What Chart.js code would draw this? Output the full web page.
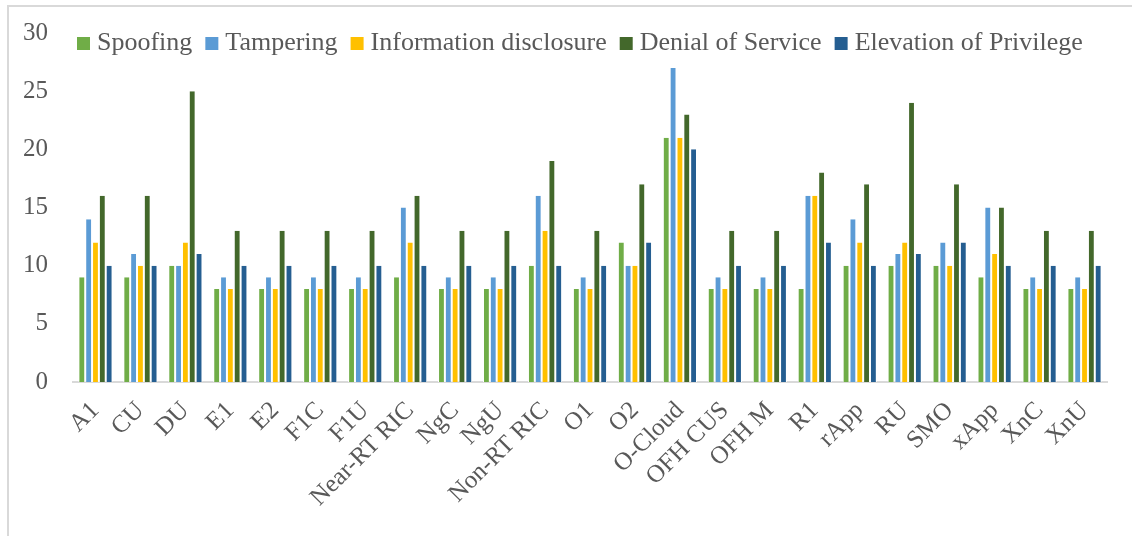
<!DOCTYPE html>
<html>
<head>
<meta charset="utf-8">
<script src="https://cdn.jsdelivr.net/npm/chart.js@4.4.0/dist/chart.umd.min.js"></script>
<style>
  html, body { margin: 0; padding: 0; background: #fff; }
  #frame { position: absolute; left: 7px; top: 5px; width: 1140px; height: 540px;
           border-left: 2px solid #d9d9d9; border-top: 2px solid #d9d9d9; }
  #wrap { position: absolute; left: 0; top: 0; width: 1132px; height: 536px; }
</style>
</head>
<body>
<div id="frame"></div>
<div id="wrap"><canvas id="threat-chart" width="1132" height="536"></canvas></div>
<script>
// categories (interfaces / components)
var labels = ['A1', 'CU', 'DU', 'E1', 'E2', 'F1C', 'F1U', 'Near-RT RIC', 'NgC', 'NgU', 'Non-RT RIC',
              'O1', 'O2', 'O-Cloud', 'OFH CUS', 'OFH M', 'R1', 'rApp', 'RU', 'SMO', 'xApp', 'XnC', 'XnU'];

// STRIDE threat counts
var spoofing    = [9, 9, 10, 8, 8, 8, 8, 9, 8, 8, 10, 8, 12, 21, 8, 8, 8, 10, 10, 10, 9, 8, 8];
var tampering   = [14, 11, 10, 9, 9, 9, 9, 15, 9, 9, 16, 9, 10, 27, 9, 9, 16, 14, 11, 12, 15, 9, 9];
var infoDisc    = [12, 10, 12, 8, 8, 8, 8, 12, 8, 8, 13, 8, 10, 21, 8, 8, 16, 12, 12, 10, 11, 8, 8];
var denial      = [16, 16, 25, 13, 13, 13, 13, 16, 13, 13, 19, 13, 17, 23, 13, 13, 18, 17, 24, 17, 15, 13, 13];
var elevation   = [10, 10, 11, 10, 10, 10, 10, 10, 10, 10, 10, 10, 12, 20, 10, 10, 12, 10, 11, 12, 10, 10, 10];

var yTicks = [0, 5, 10, 15, 20, 25, 30];

var serif = "'Liberation Serif', 'DejaVu Serif', serif";
var grey = '#595959';

function ds(label, data, color) {
    return {
        label: label,
        data: data,
        backgroundColor: color,
        borderColor: '#ffffff',
        borderWidth: { left: 1, right: 1, top: 0, bottom: 0 },
        borderSkipped: false,
        categoryPercentage: 0.76,
        barPercentage: 1.0
    };
}

// legend drawn inside the plot, one row across the top
var rowLegend = {
    id: 'rowLegend',
    afterDraw: function (chart) {
        var c = chart.ctx;
        var x = 77, y = 43;
        c.save();
        c.font = '26px ' + serif;
        c.textBaseline = 'middle';
        chart.data.datasets.forEach(function (d) {
            c.fillStyle = d.backgroundColor;
            c.fillRect(x, y - 6, 13, 13);
            x += 20;
            c.fillStyle = grey;
            c.fillText(d.label, x, y);
            x += c.measureText(d.label).width + 13;
        });
        c.restore();
    }
};

var ctx = document.getElementById('threat-chart').getContext('2d');
var chart = new Chart(ctx, {
    type: 'bar',
    data: {
        labels: labels,
        datasets: [
            ds('Spoofing', spoofing, '#70AD47'),
            ds('Tampering', tampering, '#5B9BD5'),
            ds('Information disclosure', infoDisc, '#FFC000'),
            ds('Denial of Service', denial, '#43682B'),
            ds('Elevation of Privilege', elevation, '#255E91')
        ]
    },
    plugins: [rowLegend],
    options: {
        responsive: false,
        animation: false,
        layout: { padding: { left: 0, right: 25, top: 33, bottom: 0 } },
        plugins: {
            legend: { display: false },
            tooltip: { enabled: false }
        },
        scales: {
            x: {
                grid: { display: false },
                border: { color: '#d9d9d9', width: 2 },
                afterFit: function (axis) { axis.height = 154; },
                ticks: {
                    color: grey,
                    font: { family: serif, size: 25 },
                    minRotation: 45,
                    maxRotation: 45,
                    autoSkip: false,
                    padding: 6
                }
            },
            y: {
                min: 0,
                max: 30,
                afterBuildTicks: function (axis) {
                    axis.ticks = yTicks.map(function (v) { return { value: v }; });
                },
                afterFit: function (axis) { axis.width = 73; },
                grid: { display: false },
                border: { display: false },
                ticks: {
                    color: grey,
                    font: { family: serif, size: 25 },
                    padding: 17
                }
            }
        }
    }
});
</script>
</body>
</html>
